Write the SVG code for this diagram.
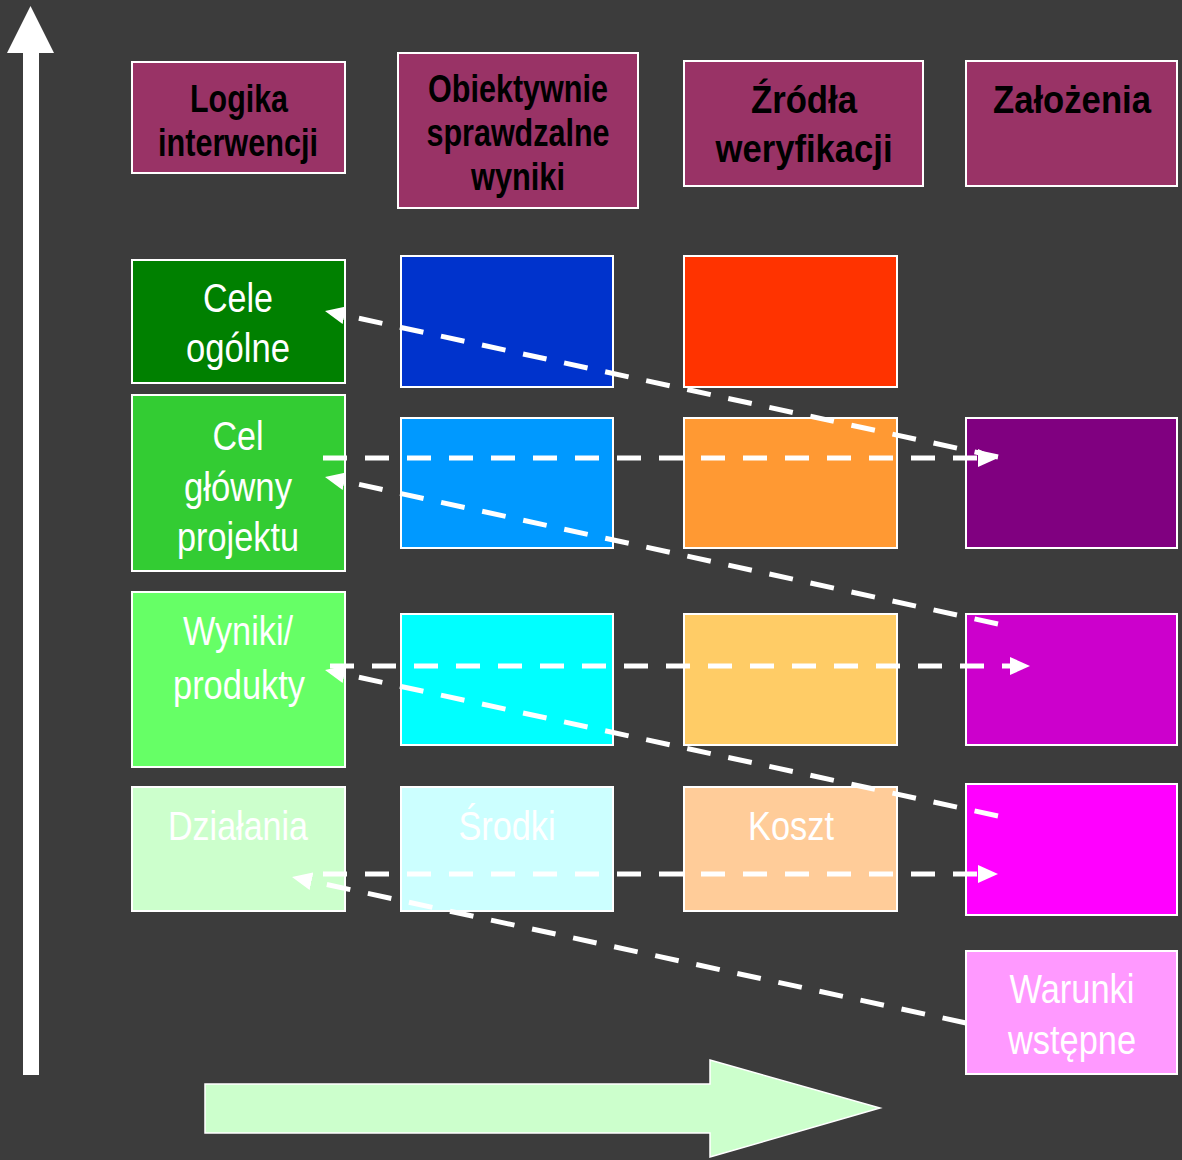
<svg xmlns="http://www.w3.org/2000/svg" width="1182" height="1160" viewBox="0 0 1182 1160">
<defs>
<style>
.box{stroke:#ffffff;stroke-width:2}
.hd{font-family:"Liberation Sans",Arial,sans-serif;font-weight:bold;font-size:38px;fill:#000000;text-anchor:middle}
.bd{font-family:"Liberation Sans",Arial,sans-serif;font-size:41px;fill:#ffffff;text-anchor:middle}
.cn{fill:none;stroke:#ffffff;stroke-width:5;stroke-dasharray:24 18;marker-end:url(#ah)}
</style>
<marker id="ah" viewBox="0 0 20 18" refX="8" refY="9" markerWidth="20" markerHeight="18" markerUnits="userSpaceOnUse" orient="auto">
<path d="M0,0 L20,9 L0,18 z" fill="#ffffff"/>
</marker>
</defs>
<rect width="1182" height="1160" fill="#3c3c3c"/>

<g id="axis-vertical">
<polygon points="23,1075 39,1075 39,53 54,53 30.5,6 7,53 23,53" fill="#ffffff"/>
</g>
<g id="axis-horizontal">
<polygon points="205,1084 710,1084 710,1060 880,1108 710,1157 710,1133 205,1133" fill="#ccffcc" stroke="#ffffff" stroke-width="1.5"/>
</g>

<g id="hdr-logika">
<rect class="box" x="132" y="62" width="213" height="111" fill="#993366"/>
<text class="hd" x="239" y="112" textLength="98" lengthAdjust="spacingAndGlyphs">Logika</text>
<text class="hd" x="238" y="156" textLength="160" lengthAdjust="spacingAndGlyphs">interwencji</text>
</g>
<g id="hdr-obiektywnie">
<rect class="box" x="398" y="53" width="240" height="155" fill="#993366"/>
<text class="hd" x="518" y="102" textLength="180" lengthAdjust="spacingAndGlyphs">Obiektywnie</text>
<text class="hd" x="518" y="146" textLength="183" lengthAdjust="spacingAndGlyphs">sprawdzalne</text>
<text class="hd" x="518" y="190" textLength="94" lengthAdjust="spacingAndGlyphs">wyniki</text>
</g>
<g id="hdr-zrodla">
<rect class="box" x="684" y="61" width="239" height="125" fill="#993366"/>
<text class="hd" x="804" y="113" textLength="106" lengthAdjust="spacingAndGlyphs">Źródła</text>
<text class="hd" x="804" y="162" textLength="177" lengthAdjust="spacingAndGlyphs">weryfikacji</text>
</g>
<g id="hdr-zalozenia">
<rect class="box" x="966" y="61" width="211" height="125" fill="#993366"/>
<text class="hd" x="1072" y="113" textLength="158" lengthAdjust="spacingAndGlyphs">Założenia</text>
</g>

<g id="cele-ogolne">
<rect class="box" x="132" y="260" width="213" height="123" fill="#008000"/>
<text class="bd" x="238" y="312" textLength="70" lengthAdjust="spacingAndGlyphs">Cele</text>
<text class="bd" x="238" y="362" textLength="104" lengthAdjust="spacingAndGlyphs">ogólne</text>
</g>
<g id="cel-glowny">
<rect class="box" x="132" y="395" width="213" height="176" fill="#33cc33"/>
<text class="bd" x="238" y="450" textLength="51" lengthAdjust="spacingAndGlyphs">Cel</text>
<text class="bd" x="238" y="501" textLength="108" lengthAdjust="spacingAndGlyphs">główny</text>
<text class="bd" x="238" y="551" textLength="122" lengthAdjust="spacingAndGlyphs">projektu</text>
</g>
<g id="wyniki-produkty">
<rect class="box" x="132" y="592" width="213" height="175" fill="#66ff66"/>
<text class="bd" x="238" y="645" textLength="110" lengthAdjust="spacingAndGlyphs">Wyniki/</text>
<text class="bd" x="239" y="699" textLength="132" lengthAdjust="spacingAndGlyphs">produkty</text>
</g>
<g id="dzialania">
<rect class="box" x="132" y="787" width="213" height="124" fill="#ccffcc"/>
<text class="bd" x="238" y="840" textLength="140" lengthAdjust="spacingAndGlyphs">Działania</text>
</g>

<g id="osw-1"><rect class="box" x="401" y="256" width="212" height="131" fill="#0033cc"/></g>
<g id="osw-2"><rect class="box" x="401" y="418" width="212" height="130" fill="#0099ff"/></g>
<g id="osw-3"><rect class="box" x="401" y="614" width="212" height="131" fill="#00ffff"/></g>
<g id="srodki">
<rect class="box" x="401" y="787" width="212" height="124" fill="#ccffff"/>
<text class="bd" x="507" y="840" textLength="97" lengthAdjust="spacingAndGlyphs">Środki</text>
</g>

<g id="zw-1"><rect class="box" x="684" y="256" width="213" height="131" fill="#ff3300"/></g>
<g id="zw-2"><rect class="box" x="684" y="418" width="213" height="130" fill="#ff9933"/></g>
<g id="zw-3"><rect class="box" x="684" y="614" width="213" height="131" fill="#ffcc66"/></g>
<g id="koszt">
<rect class="box" x="684" y="787" width="213" height="124" fill="#ffcc99"/>
<text class="bd" x="791" y="840" textLength="86" lengthAdjust="spacingAndGlyphs">Koszt</text>
</g>

<g id="zal-1"><rect class="box" x="966" y="418" width="211" height="130" fill="#800080"/></g>
<g id="zal-2"><rect class="box" x="966" y="614" width="211" height="131" fill="#cc00cc"/></g>
<g id="zal-3"><rect class="box" x="966" y="784" width="211" height="131" fill="#ff00ff"/></g>
<g id="warunki">
<rect class="box" x="966" y="951" width="211" height="123" fill="#ff99ff"/>
<text class="bd" x="1072" y="1003" textLength="125" lengthAdjust="spacingAndGlyphs">Warunki</text>
<text class="bd" x="1072" y="1054" textLength="128" lengthAdjust="spacingAndGlyphs">wstępne</text>
</g>

<g id="connectors">
<path class="cn" d="M998,457 L336.7,313.5"/>
<path class="cn" d="M323,458 L986,458"/>
<path class="cn" d="M998,624 L336.7,479.5"/>
<path class="cn" d="M330,666 L1018,666"/>
<path class="cn" d="M998,816 L336.7,672.5"/>
<path class="cn" d="M323,874 L986,874"/>
<path class="cn" d="M966,1023 L303.7,879.5"/>
</g>
</svg>
